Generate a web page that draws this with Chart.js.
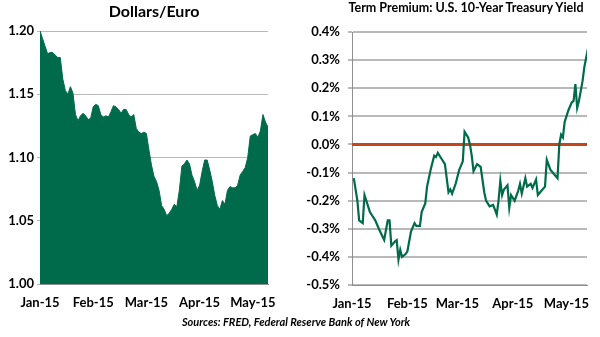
<!DOCTYPE html>
<html>
<head>
<meta charset="utf-8">
<script src="https://cdn.jsdelivr.net/npm/chart.js@4.4.0/dist/chart.umd.min.js"></script>
<style>
  html, body { margin: 0; padding: 0; background: #fff; }
  #wrap { position: relative; width: 600px; height: 337px; overflow: hidden; font-family: Lato, 'Open Sans', sans-serif; }
  canvas { position: absolute; top: 0; }
  #euroChart { left: 0; }
  #termChart { left: 300px; }
  .title { position: absolute; font-weight: bold; color: #000; white-space: nowrap; transform: translateX(-50%); }
  #t1 { left: 154px; top: 1px; font-size: 16px; }
  #t2 { left: 466px; top: 0px; font-size: 12.5px; }
  #src { position: absolute; left: 296px; top: 315px; transform: translateX(-50%); font-size: 11px; font-weight: bold; font-style: italic; white-space: nowrap; }
</style>
</head>
<body>
<div id="wrap">
  <canvas id="euroChart" width="300" height="337"></canvas>
  <canvas id="termChart" width="300" height="337"></canvas>
  <div class="title" id="t1">Dollars/Euro</div>
  <div class="title" id="t2">Term Premium: U.S. 10-Year Treasury Yield</div>
  <div id="src">Sources: FRED, Federal Reserve Bank of New York</div>
</div>
<script>
// ── Dollars/Euro, daily (trading days, Jan 2 – May 11 2015) ──────────
const euroValues = [
  1.200, 1.194, 1.188, 1.182, 1.183, 1.183, 1.181, 1.179, 1.179, 1.162,
  1.153, 1.150, 1.156, 1.151, 1.134, 1.129, 1.133, 1.135, 1.133, 1.130,
  1.131, 1.140, 1.142, 1.141, 1.134, 1.132, 1.133, 1.132, 1.136, 1.141,
  1.140, 1.138, 1.135, 1.138, 1.138, 1.134, 1.132, 1.134, 1.123, 1.120,
  1.119, 1.120, 1.119, 1.106, 1.094, 1.085, 1.081, 1.074, 1.062, 1.059,
  1.054, 1.056, 1.059, 1.063, 1.061, 1.074, 1.093, 1.095, 1.098, 1.095,
  1.086, 1.081, 1.074, 1.078, 1.089, 1.098, 1.098, 1.090, 1.081, 1.070,
  1.062, 1.059, 1.066, 1.063, 1.074, 1.077, 1.076, 1.076, 1.078, 1.086,
  1.089, 1.092, 1.100, 1.117, 1.118, 1.119, 1.116, 1.121, 1.134, 1.128,
  1.124
];
const euroTickIdx = [0, 21, 42, 63, 84];
const monthLabels = ['Jan-15', 'Feb-15', 'Mar-15', 'Apr-15', 'May-15'];

// ── Term premium (%), day offset from Jan 1 2015 ─────────────────────
const termDays = [
  1, 3, 4, 6, 7, 8, 10, 11, 13, 15, 18, 20, 21, 22, 24, 25, 26, 27, 28, 30,
  31, 33, 35, 36, 38, 39, 41, 42, 44, 46, 47, 48, 50, 52, 54, 55, 56, 58, 60, 62,
  63, 65, 66, 67, 68, 70, 72, 74, 75, 77, 79, 81, 82, 83, 84, 85, 87, 88, 89, 91,
  93, 94, 95, 97, 98, 100, 101, 103, 104, 106, 108, 109, 111, 113, 115, 116, 117, 118, 119, 121,
  123, 124, 125, 126, 127, 129, 130, 132
];
const termValues = [
  -0.12, -0.20, -0.27, -0.28, -0.18, -0.20, -0.24, -0.25, -0.27, -0.30,
  -0.34, -0.27, -0.27, -0.36, -0.345, -0.34, -0.41, -0.375, -0.40, -0.39,
  -0.38, -0.31, -0.28, -0.29, -0.29, -0.24, -0.21, -0.15, -0.09, -0.04,
  -0.045, -0.03, -0.05, -0.07, -0.17, -0.16, -0.175, -0.14, -0.09, -0.06,
  0.045, 0.025, 0.0, -0.04, -0.095, -0.07, -0.08, -0.17, -0.20, -0.22,
  -0.215, -0.25, -0.20, -0.13, -0.18, -0.16, -0.145, -0.225, -0.18, -0.20,
  -0.165, -0.14, -0.175, -0.12, -0.15, -0.14, -0.155, -0.125, -0.18, -0.165,
  -0.15, -0.055, -0.09, -0.105, -0.12, 0.0, 0.035, 0.025, 0.08, 0.12,
  0.15, 0.155, 0.215, 0.13, 0.155, 0.225, 0.275, 0.34
];
const termTickDays = [0, 31, 59, 90, 120];
const termRange = [0, 131.5];

const GREEN = '#006b4a';
const GRID = '#b9b9b9';
const AXIS = '#8f8f8f';
const tickFont = { family: 'Lato', weight: 'bold', size: 13 };

Chart.defaults.font.family = 'Lato';
Chart.defaults.color = '#000';

// ── Left: area chart ────────────────────────────────────────
new Chart(document.getElementById('euroChart'), {
  type: 'line',
  data: {
    datasets: [{
      data: euroValues.map((v, i) => ({ x: i, y: v })),
      borderColor: GREEN,
      borderWidth: 1,
      backgroundColor: GREEN,
      fill: 'start',
      pointRadius: 0,
      tension: 0
    }]
  },
  options: {
    responsive: false,
    animation: false,
    devicePixelRatio: 1,
    layout: { padding: { top: 31, right: 32, left: 0, bottom: 0 } },
    plugins: { legend: { display: false }, tooltip: { enabled: false } },
    scales: {
      x: {
        type: 'linear',
        min: 0,
        max: euroValues.length - 1,
        afterBuildTicks: s => { s.ticks = euroTickIdx.map(v => ({ value: v })); },
        afterFit: s => { s.height = 53; },
        grid: { display: false },
        border: { display: true, color: AXIS, width: 1 },
        ticks: {
          font: tickFont, color: '#000', padding: 3, maxRotation: 0, autoSkip: false,
          callback: v => monthLabels[euroTickIdx.indexOf(v)]
        }
      },
      y: {
        min: 1.0,
        max: 1.2,
        afterFit: s => { s.width = 40; },
        grid: { color: GRID, lineWidth: 1, tickLength: 3, drawTicks: true },
        border: { display: true, color: AXIS, width: 1 },
        ticks: {
          stepSize: 0.05, font: tickFont, color: '#000', padding: 3,
          callback: v => v.toFixed(2)
        }
      }
    }
  }
});

// ── Right: line chart with zero line ────────────────────────
new Chart(document.getElementById('termChart'), {
  type: 'line',
  data: {
    datasets: [
      {
        data: termDays.map((d, i) => ({ x: d, y: termValues[i] })),
        borderColor: GREEN,
        borderWidth: 2.2,
        pointRadius: 0,
        tension: 0,
        fill: false
      },
      {
        data: termRange.map(d => ({ x: d, y: 0 })),
        borderColor: '#c4461a',
        borderWidth: 3,
        pointRadius: 0,
        fill: false
      }
    ]
  },
  options: {
    responsive: false,
    animation: false,
    devicePixelRatio: 1,
    layout: { padding: { top: 32, right: 13, left: 0, bottom: 0 } },
    plugins: { legend: { display: false }, tooltip: { enabled: false } },
    scales: {
      x: {
        type: 'linear',
        min: termRange[0],
        max: termRange[1],
        afterBuildTicks: s => { s.ticks = termTickDays.map(v => ({ value: v })); },
        afterFit: s => { s.height = 52; },
        grid: { display: false },
        border: { display: true, color: AXIS, width: 1 },
        ticks: {
          font: tickFont, color: '#000', padding: 3, maxRotation: 0, autoSkip: false,
          callback: v => monthLabels[termTickDays.indexOf(v)]
        }
      },
      y: {
        min: -0.5,
        max: 0.4,
        afterFit: s => { s.width = 52; },
        grid: { color: GRID, lineWidth: 2, tickLength: 4, drawTicks: true },
        border: { display: true, color: AXIS, width: 1 },
        ticks: {
          stepSize: 0.1, font: tickFont, color: '#000', padding: 8,
          callback: v => v.toFixed(1) + '%'
        }
      }
    }
  }
});
</script>
</body>
</html>
